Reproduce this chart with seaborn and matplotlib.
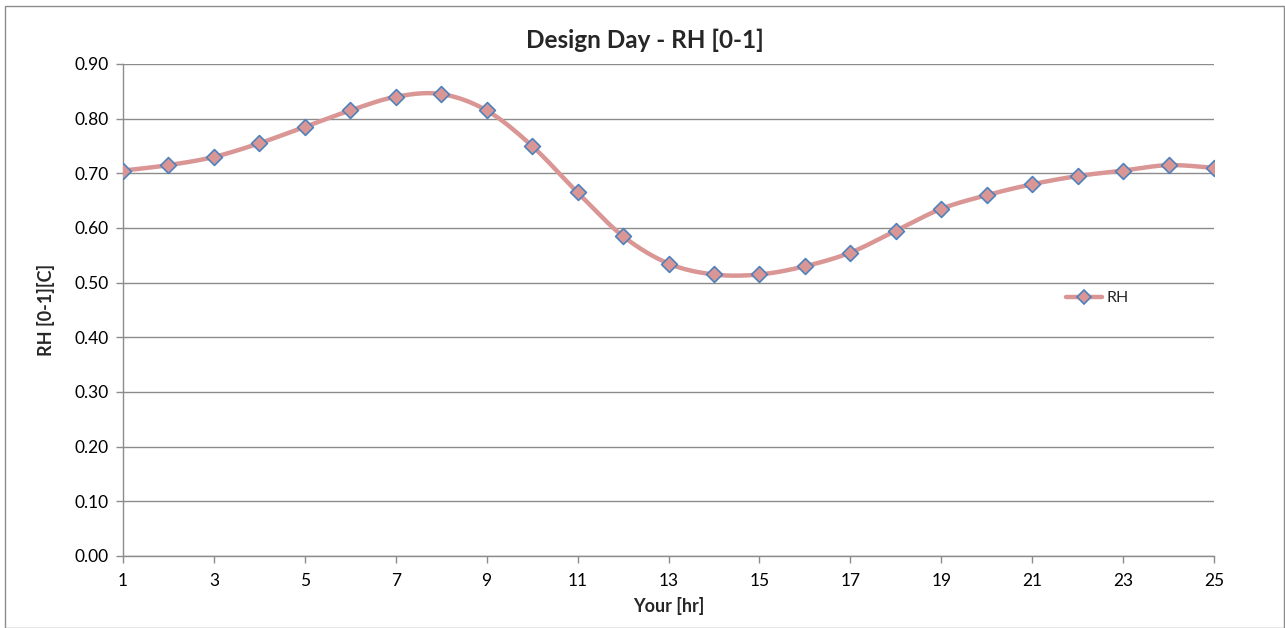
import numpy as np
import pandas as pd
import matplotlib
matplotlib.use("Agg")
import matplotlib.pyplot as plt
from matplotlib.patches import Rectangle
import seaborn as sns

# Hourly relative humidity for the design day
hours = list(range(1, 26))
rh = [0.705, 0.715, 0.730, 0.755, 0.785, 0.815, 0.840, 0.845, 0.815, 0.750,
      0.665, 0.585, 0.535, 0.515, 0.515, 0.530, 0.555, 0.595, 0.635, 0.660,
      0.680, 0.695, 0.705, 0.715, 0.710]
x_ticks = list(range(1, 26, 2))
y_ticks = [0.0, 0.1, 0.2, 0.3, 0.4, 0.5, 0.6, 0.7, 0.8, 0.9]

LINE_COLOR = "#D99694"
EDGE_COLOR = "#4F81BD"
GRID_COLOR = "#8C8C8C"


def smooth_curve(xs, ys, steps=30):
    """Catmull-Rom style smoothing, as used by spreadsheet 'smoothed line' charts."""
    xs = np.asarray(xs, float)
    ys = np.asarray(ys, float)
    px = np.concatenate([[xs[0]], xs, [xs[-1]]])
    py = np.concatenate([[ys[0]], ys, [ys[-1]]])
    out_x, out_y = [], []
    for i in range(1, len(px) - 2):
        p0, p1, p2, p3 = (np.array([px[j], py[j]]) for j in (i - 1, i, i + 1, i + 2))
        c1 = p1 + (p2 - p0) / 6.0
        c2 = p2 - (p3 - p1) / 6.0
        t = np.linspace(0, 1, steps, endpoint=(i == len(px) - 3))
        b = ((1 - t) ** 3)[:, None] * p1 + (3 * (1 - t) ** 2 * t)[:, None] * c1 \
            + (3 * (1 - t) * t ** 2)[:, None] * c2 + (t ** 3)[:, None] * p2
        out_x.extend(b[:, 0])
        out_y.extend(b[:, 1])
    return np.array(out_x), np.array(out_y)


sns.set_theme(style="white")
plt.rcParams["font.family"] = ["Lato", "DejaVu Sans"]

fig = plt.figure(figsize=(12.85, 6.28), dpi=100)
ax = fig.add_axes([123 / 1285, 1 - 556 / 628, (1214 - 123) / 1285, (556 - 64) / 628])

df = pd.DataFrame({"hour": hours, "RH": rh})
sx, sy = smooth_curve(hours, rh)
curve = pd.DataFrame({"hour": sx, "RH": sy})

sns.lineplot(data=curve, x="hour", y="RH", ax=ax, color=LINE_COLOR, linewidth=3.2,
             sort=False, zorder=2)
sns.scatterplot(data=df, x="hour", y="RH", ax=ax, marker="D", s=65,
                color=LINE_COLOR, edgecolor=EDGE_COLOR, linewidth=1.2, zorder=3)

ax.set_xlim(1, 25)
ax.set_ylim(0, 0.9)
ax.set_xticks(x_ticks)
ax.set_xticklabels([str(v) for v in x_ticks], fontsize=12.5)
ax.set_yticks(y_ticks)
ax.set_yticklabels([f"{v:.2f}" for v in y_ticks], fontsize=12.5)
ax.yaxis.grid(True, color=GRID_COLOR, linewidth=1.0)
ax.xaxis.grid(False)
for side in ("top", "right"):
    ax.spines[side].set_visible(False)
for side in ("left", "bottom"):
    ax.spines[side].set_color(GRID_COLOR)
    ax.spines[side].set_linewidth(1.0)
ax.tick_params(axis="both", which="major", direction="out", length=5, width=1,
               color=GRID_COLOR, labelcolor="black", bottom=True, left=True)
ax.tick_params(axis="x", pad=7)
ax.tick_params(axis="y", pad=5)

ax.set_xlabel("Your [hr]", fontsize=13, fontweight="bold", labelpad=6)
ax.set_ylabel("RH [0-1][C]", fontsize=13, fontweight="bold", labelpad=14)
fig.text(0.502, 1 - 40 / 628, "Design Day - RH [0-1]", ha="center", va="center",
         fontsize=17.5, fontweight="bold")

# Legend entry with line and marker
legend_handle = plt.Line2D([], [], color=LINE_COLOR, linewidth=3.2, marker="D",
                           markersize=7, markerfacecolor=LINE_COLOR,
                           markeredgecolor=EDGE_COLOR, markeredgewidth=1.2)
ax.legend([legend_handle], ["RH"], loc="center left",
          bbox_to_anchor=(1052 / 1285, 1 - 298 / 628), bbox_transform=fig.transFigure,
          frameon=False, fontsize=11.5, handlelength=2.2, handletextpad=0.3)

# Chart area border
fig.patches.append(Rectangle((5 / 1285, 0), 1 - 6 / 1285, 1 - 6 / 628,
                             transform=fig.transFigure, fill=False,
                             edgecolor="#8C8C8C", linewidth=1.0))

fig.savefig("out.png", dpi=100)
